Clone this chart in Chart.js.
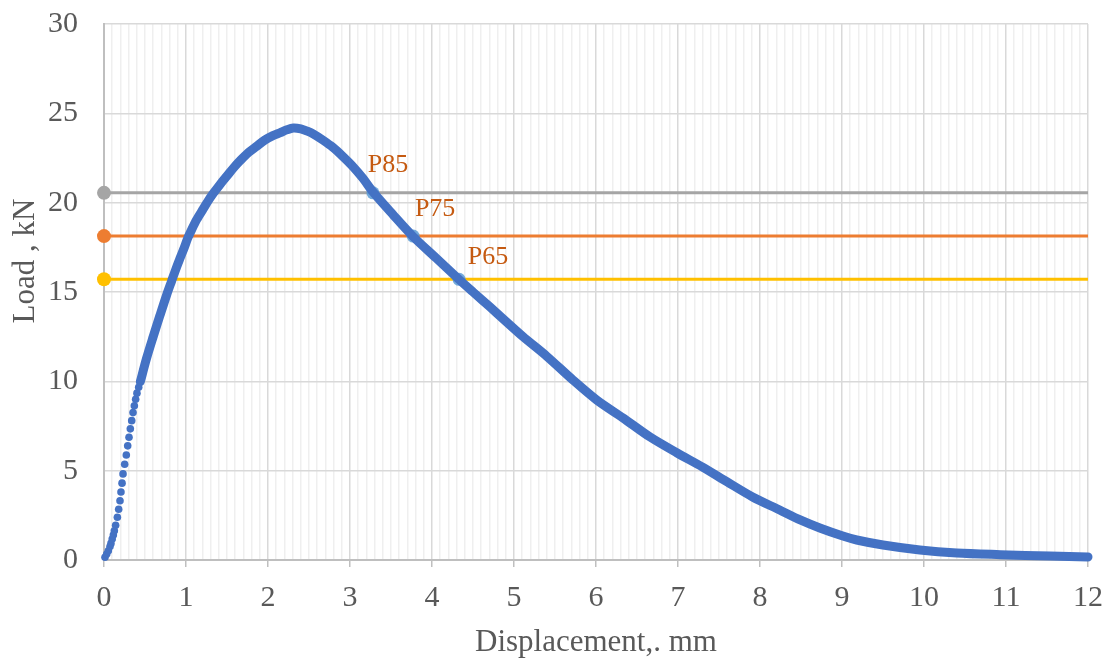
<!DOCTYPE html>
<html>
<head>
<meta charset="utf-8">
<script src="https://cdn.jsdelivr.net/npm/chart.js@4.4.1/dist/chart.umd.min.js"></script>
<style>
  html, body { margin: 0; padding: 0; background: #fff; }
  canvas { display: block; }
</style>
</head>
<body>
<canvas id="loadChart" width="1113" height="658"></canvas>
<script>
// load–displacement curve
// toe region: separate dots
const dispDots = [0.012, 0.033, 0.053, 0.073, 0.085, 0.10, 0.114, 0.126, 0.142, 0.163, 0.179, 0.195, 0.207,
    0.22, 0.232, 0.252, 0.272, 0.289, 0.305, 0.321, 0.338, 0.354, 0.37, 0.386, 0.402, 0.423, 0.443];
const loadDots = [0.15, 0.34, 0.52, 0.75, 0.93, 1.17, 1.40, 1.64, 1.94, 2.39, 2.84, 3.32, 3.81,
    4.30, 4.82, 5.36, 5.88, 6.39, 6.87, 7.34, 7.80, 8.25, 8.63, 9.0, 9.34, 9.67, 9.98];

// rest of the curve: dense, drawn as a thick line
const dispCurve = [0.443, 0.52, 0.60, 0.683, 0.765, 0.825, 0.886, 0.93, 0.98, 1.02, 1.07, 1.13, 1.21, 1.27, 1.33,
    1.42, 1.50, 1.58, 1.66, 1.76, 1.86, 1.96, 2.06, 2.15, 2.23, 2.31, 2.40, 2.48, 2.55, 2.67, 2.79, 2.91,
    3.04, 3.16, 3.28, 3.52, 3.77, 4.05, 4.33, 4.50, 4.71, 4.83, 5.11, 5.40, 5.72, 6.01, 6.33, 6.66, 6.99,
    7.30, 7.60, 7.91, 8.24, 8.49, 8.73, 9.01, 9.18, 9.50, 9.95, 10.4, 10.93, 11.54, 12.0];
const loadCurve = [9.98, 11.3, 12.5, 13.7, 14.85, 15.62, 16.4, 16.92, 17.5, 18.0, 18.5, 19.05, 19.65, 20.1, 20.5,
    21.05, 21.5, 21.95, 22.35, 22.8, 23.15, 23.5, 23.75, 23.92, 24.08, 24.18, 24.13, 24.0, 23.85, 23.5, 23.1, 22.6,
    22.0, 21.35, 20.6, 19.35, 18.1, 16.9, 15.7, 15.0, 14.15, 13.65, 12.5, 11.4, 10.07, 8.95, 7.95, 6.88, 5.99,
    5.2, 4.37, 3.53, 2.80, 2.24, 1.79, 1.34, 1.12, 0.84, 0.56, 0.39, 0.30, 0.22, 0.17];

// P85 / P75 / P65 levels
const levelNames = ['P85', 'P75', 'P65'];
const levelLoads = [20.55, 18.13, 15.71];
const levelDisp = [3.28, 3.77, 4.33];
const levelColors = ['#A5A5A5', '#ED7D31', '#FFC000'];

const xRange = [0, 12];
const yRange = [0, 30];

const FONT = "'Liberation Serif', 'Times New Roman', serif";
const TEXT = '#595959';

const toPts = (xs, ys) => xs.map((x, i) => ({x: x, y: ys[i]}));
const isMajor = (v) => Math.abs(v - Math.round(v)) < 1e-6;

const datasets = [
    {   // curve line (on top)
        data: toPts(dispCurve, loadCurve),
        showLine: true, borderColor: '#4472C4', borderWidth: 9,
        borderCapStyle: 'round', borderJoinStyle: 'round',
        tension: 0.3, pointRadius: 0, order: 0, clip: false
    },
    {   // toe dots
        data: toPts(dispDots, loadDots),
        showLine: false, pointRadius: 3.8, pointBorderWidth: 0,
        pointBackgroundColor: '#4472C4', order: 0, clip: false
    },
    {   // P points joined by red line
        data: toPts(levelDisp, levelLoads),
        showLine: true, borderColor: '#FF0000', borderWidth: 2,
        pointRadius: 6.5, pointBorderWidth: 0,
        pointBackgroundColor: 'rgba(91,155,213,0.85)', order: 1, clip: false
    }
];
levelLoads.forEach((v, i) => {
    datasets.push({
        data: [{x: xRange[0], y: v}, {x: xRange[1], y: v}],
        showLine: true, borderColor: levelColors[i], borderWidth: 3,
        pointRadius: [7, 0], pointBorderWidth: 0,
        pointBackgroundColor: levelColors[i], order: 2, clip: false
    });
});

// P labels next to the points
const pLabels = {
    id: 'pLabels',
    afterDatasetsDraw(chart) {
        const xs = chart.scales.x, ys = chart.scales.y, c = chart.ctx;
        const off = [[15, -28], [22, -27], [29, -22]];
        c.save();
        c.font = '26px ' + FONT;
        c.fillStyle = '#C55A11';
        c.textAlign = 'center';
        c.textBaseline = 'middle';
        levelNames.forEach((n, i) => {
            c.fillText(n, xs.getPixelForValue(levelDisp[i]) + off[i][0], ys.getPixelForValue(levelLoads[i]) + off[i][1]);
        });
        c.restore();
    }
};

// fixed box sizes so the plot area sits where the reference has it
const fixBox = (w, h) => (s) => {
    if (w) s.width = w;
    if (h) s.height = h;
    s.paddingTop = 0; s.paddingBottom = 0; s.paddingLeft = 0; s.paddingRight = 0;
};

new Chart(document.getElementById('loadChart').getContext('2d'), {
    type: 'scatter',
    data: { datasets: datasets },
    options: {
        responsive: false, animation: false, devicePixelRatio: 1,
        layout: { padding: { top: 24, right: 25, left: 0, bottom: 0 } },
        plugins: { legend: { display: false }, tooltip: { enabled: false } },
        scales: {
            x: {
                type: 'linear', min: xRange[0], max: xRange[1],
                afterFit: fixBox(0, 98),
                ticks: {
                    stepSize: 0.1, autoSkip: false, maxRotation: 0, padding: 13,
                    color: TEXT, font: { family: FONT, size: 30 },
                    callback: (v) => isMajor(v) ? String(Math.round(v)) : ''
                },
                grid: {
                    color: (ctx) => isMajor(ctx.tick.value) ? '#d9d9d9' : '#efefef',
                    lineWidth: 1.5, tickLength: 7,
                    tickColor: (ctx) => isMajor(ctx.tick.value) ? '#bfbfbf' : 'rgba(0,0,0,0)'
                },
                border: { color: '#bfbfbf', width: 2 },
                title: {
                    display: true, text: 'Displacement,. mm', color: TEXT,
                    font: { family: FONT, size: 31, lineHeight: 1 }, padding: { top: 0, bottom: 0 }
                }
            },
            y: {
                type: 'linear', min: yRange[0], max: yRange[1],
                afterFit: fixBox(104, 0),
                ticks: { stepSize: 5, padding: 26, color: TEXT, font: { family: FONT, size: 30 } },
                grid: { color: '#d9d9d9', lineWidth: 1.5, drawTicks: false },
                border: { color: '#bfbfbf', width: 2 },
                title: {
                    display: true, text: '        Load , kN', color: TEXT,
                    font: { family: FONT, size: 31, lineHeight: 1 }, padding: { top: 10, bottom: 0 }
                }
            }
        }
    },
    plugins: [pLabels]
});
</script>
</body>
</html>
